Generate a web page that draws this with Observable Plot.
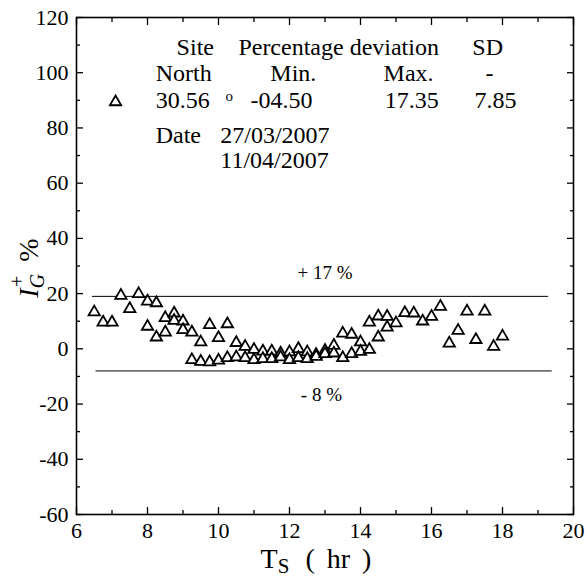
<!DOCTYPE html>
<html><head><meta charset="utf-8">
<script src="https://cdn.jsdelivr.net/npm/d3@7"></script>
<script src="https://cdn.jsdelivr.net/npm/@observablehq/plot@0.6"></script>
<style>
body{margin:0;background:#fff}
</style>
</head><body><div id="chart"></div>
<script>
// Solar time (hr) and percentage deviation of I_G+
const timeHr = [
  6.5, 6.75, 7.0, 7.25, 7.5, 7.75,
  8.0, 8.0, 8.25, 8.25, 8.5, 8.5, 8.75, 8.75, 9.0, 9.0,
  9.25, 9.25, 9.5, 9.5, 9.75, 9.75, 10.0, 10.0, 10.25, 10.25,
  10.5, 10.5, 10.75, 10.75, 11.0, 11.0, 11.25, 11.25, 11.5, 11.5,
  11.75, 11.75, 12.0, 12.0, 12.25, 12.25, 12.5, 12.5, 12.75, 12.75,
  13.0, 13.0, 13.25, 13.25, 13.5, 13.5, 13.75, 13.75, 14.0, 14.0,
  14.25, 14.25, 14.5, 14.5, 14.75, 14.75,
  15.0, 15.25, 15.5, 15.75, 16.0, 16.25, 16.5, 16.75, 17.0, 17.25, 17.5, 17.75, 18.0
];
const deviation = [
  13.3, 9.6, 9.6, 19.3, 14.5, 19.9,
  17.2, 8.1, 16.6, 4.2, 11.2, 6.0, 12.9, 10.2, 10.0, 6.9,
  6.0, -4.0, 2.4, -4.6, 8.7, -4.8, 4.0, -4.2, 9.0, -3.3,
  2.2, -3.0, 0.8, -3.3, -0.3, -4.0, -0.9, -3.6, -0.9, -3.6,
  -1.6, -3.0, -1.2, -4.0, 0.0, -3.3, -1.2, -3.6, -2.1, -2.8,
  -0.6, -1.8, 1.2, -1.6, 5.6, -3.3, 5.2, -1.8, 2.4, -1.0,
  9.6, -0.3, 11.8, 4.2, 11.7, 7.8,
  9.3, 13.0, 12.9, 10.0, 11.7, 15.3, 2.0, 6.6, 13.6, 3.3, 13.6, 0.8, 4.5
];

const xTickLabels = [6, 8, 10, 12, 14, 16, 18, 20];
const xMinorTicks = [7, 9, 11, 13, 15, 17, 19];
const yTickLabels = [-60, -40, -20, 0, 20, 40, 60, 80, 100, 120];
const yMinorTicks = [-50, -30, -10, 10, 30, 50, 70, 90, 110];

// reference lines (+17 % and -8 % bands)
const refY = [19, -8];
const refX1 = [6.45, 6.55];
const refX2 = [19.3, 19.4];
const refLabels = ["+ 17 %", "- 8 %"];
const refLabelX = [13.0, 12.9];
const refLabelY = [27.6, -16.6];

// annotation table
const annoText = ["Site", "Percentage deviation", "SD",
  "North", "Min.", "Max.", "-",
  "30.56", "-04.50", "17.35", "7.85",
  "Date", "27/03/2007", "11/04/2007"];
const annoX = [8.82, 10.56, 17.15,
  8.23, 11.46, 14.65, 17.52,
  8.23, 10.9, 14.68, 17.21,
  8.23, 10.05, 10.05];
const annoY = [109.1, 109.1, 109.1,
  99.7, 99.7, 99.7, 99.7,
  89.9, 89.9, 89.9, 89.9,
  77.2, 77.2, 68.2];
const degreeMark = [{x: 10.2, y: 91.6, t: "o"}];
const legendSymbol = [{x: 7.1, y: 89.4}];

const points = timeHr.map((t, i) => ({t, v: deviation[i]}));
const refs = refY.map((y, i) => ({y, x1: refX1[i], x2: refX2[i], label: refLabels[i], lx: refLabelX[i], ly: refLabelY[i]}));
const anno = annoText.map((s, i) => ({s, x: annoX[i], y: annoY[i]}));

const tri = {symbol: "triangle", r: 4.2, stroke: "black", strokeWidth: 1.8, fill: "white"};
const plain = d => `${d}`;

const chart = Plot.plot({
  width: 587, height: 584,
  marginLeft: 76, marginRight: 14, marginTop: 17, marginBottom: 70,
  x: {domain: [6, 20], label: null},
  y: {domain: [-60, 120], label: null},
  style: {fontSize: "22px", color: "black", background: "white"},
  marks: [
    Plot.ruleY(refs, {y: "y", x1: "x1", x2: "x2", stroke: "black", strokeWidth: 1}),
    Plot.text(refs, {x: "lx", y: "ly", text: "label", fontSize: 19, fill: "black"}),
    Plot.dot(points, {x: "t", y: "v", ...tri}),
    Plot.dot(legendSymbol, {x: "x", y: "y", ...tri}),
    Plot.text(anno, {x: "x", y: "y", text: "s", textAnchor: "start", fontSize: 24, fill: "black"}),
    Plot.text(degreeMark, {x: "x", y: "y", text: "t", textAnchor: "start", fontSize: 15, fill: "black"}),
    // tick labels
    Plot.axisX(xTickLabels, {anchor: "bottom", tickSize: 0, tickPadding: 8, fontSize: 22, tickFormat: plain, label: null}),
    Plot.axisY(yTickLabels, {anchor: "left", tickSize: 0, tickPadding: 8, fontSize: 22, tickFormat: plain, label: null}),
    // inward ticks all round
    Plot.axisX(xTickLabels, {anchor: "bottom", tickSize: -7, fill: "none", tickFormat: () => "", label: null, strokeWidth: 1.3}),
    Plot.axisX(xMinorTicks, {anchor: "bottom", tickSize: -4, fill: "none", tickFormat: () => "", label: null, strokeWidth: 1.3}),
    Plot.axisX(xTickLabels, {anchor: "top", tickSize: -7, fill: "none", tickFormat: () => "", label: null, strokeWidth: 1.3}),
    Plot.axisX(xMinorTicks, {anchor: "top", tickSize: -4, fill: "none", tickFormat: () => "", label: null, strokeWidth: 1.3}),
    Plot.axisY(yTickLabels, {anchor: "left", tickSize: -7, fill: "none", tickFormat: () => "", label: null, strokeWidth: 1.3}),
    Plot.axisY(yMinorTicks, {anchor: "left", tickSize: -4, fill: "none", tickFormat: () => "", label: null, strokeWidth: 1.3}),
    Plot.axisY(yTickLabels, {anchor: "right", tickSize: -7, fill: "none", tickFormat: () => "", label: null, strokeWidth: 1.3}),
    Plot.axisY(yMinorTicks, {anchor: "right", tickSize: -4, fill: "none", tickFormat: () => "", label: null, strokeWidth: 1.3}),
    Plot.frame({stroke: "black", strokeWidth: 1.6})
  ]
});
document.getElementById("chart").appendChild(chart);

// axis titles with sub/superscripts
const svg = d3.select(chart);
const xt = svg.append("text")
  .attr("x", 316).attr("y", 568).attr("text-anchor", "middle")
  .attr("font-size", 28).attr("fill", "black");
xt.append("tspan").text("T");
xt.append("tspan").attr("font-size", 21).attr("dy", 5).text("S");
xt.append("tspan").attr("dy", -5).attr("dx", 4).text(" ( hr )").attr("word-spacing", 5);

const yt = svg.append("text")
  .attr("transform", "translate(38,268) rotate(-90)")
  .attr("text-anchor", "middle")
  .attr("font-size", 28).attr("fill", "black");
yt.append("tspan").attr("font-style", "italic").text("I");
yt.append("tspan").attr("font-size", 20).attr("font-style", "italic").attr("dy", 6).text("G");
yt.append("tspan").attr("font-size", 20).attr("dx", -13).attr("dy", -20).text("+");
yt.append("tspan").attr("dy", 14).text("  %");

// serif typeface everywhere
const fam = '"Liberation Serif", "Times New Roman", Times, serif';
chart.style.setProperty("font-family", fam, "important");
svg.selectAll("g, text").each(function() {
  this.removeAttribute("font-family");
  this.style.setProperty("font-family", fam, "important");
});
</script>
</body></html>
